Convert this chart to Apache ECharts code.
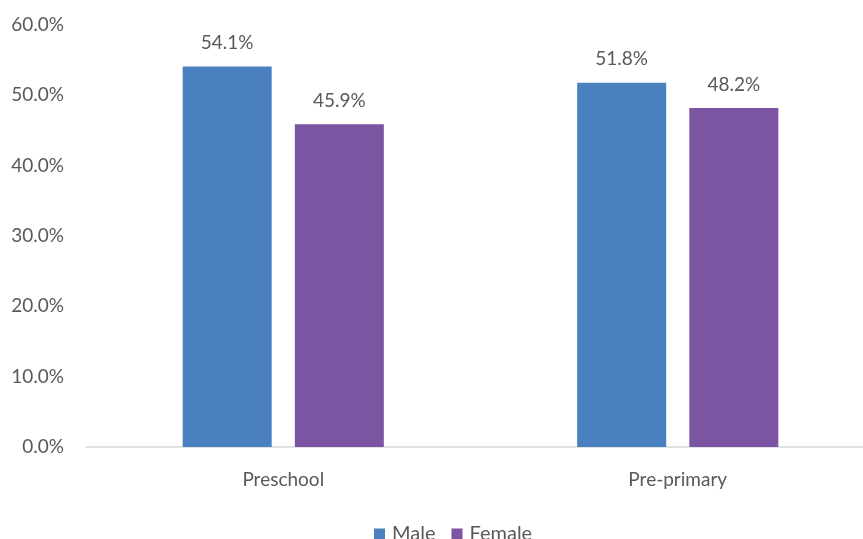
<!DOCTYPE html>
<html>
<head>
<meta charset="utf-8">
<script src="https://cdn.jsdelivr.net/npm/echarts@6/dist/echarts.min.js"></script>
<style>
  html, body { margin: 0; padding: 0; background: #fff; }
  #chart { width: 863px; height: 539px; }
</style>
</head>
<body>
<div id="chart"></div>
<script>
var categories = ['Preschool', 'Pre-primary'];
var maleValues = [54.1, 51.8];
var femaleValues = [45.9, 48.2];
var yTicks = [0, 10, 20, 30, 40, 50, 60];

var myChart = echarts.init(document.getElementById('chart'));
var textColor = '#595959';
var font = 'Lato';
var fs = 19;

var option = {
    animation: false,
    grid: {
        left: 86,
        right: -12,
        top: 25,
        bottom: 92,
        outerBoundsMode: 'none'
    },
    legend: {
        data: ['Male', 'Female'],
        top: 519,
        left: 369,
        itemWidth: 11,
        itemHeight: 11,
        itemGap: 16,
        icon: 'rect',
        selectedMode: false,
        textStyle: { color: textColor, fontSize: 20, fontFamily: font, padding: [0, 0, 0, 2] }
    },
    xAxis: {
        type: 'category',
        data: categories,
        axisLine: { lineStyle: { color: '#d9d9d9', width: 1.5 } },
        axisTick: { show: false },
        axisLabel: { color: textColor, fontSize: fs, fontFamily: font, margin: 23 }
    },
    yAxis: {
        type: 'value',
        min: yTicks[0],
        max: yTicks[yTicks.length - 1],
        interval: 10,
        splitLine: { show: false },
        axisLine: { show: false },
        axisTick: { show: false },
        axisLabel: {
            color: textColor,
            fontSize: fs,
            fontFamily: font,
            margin: 22,
            formatter: function (v) { return v.toFixed(1) + '%'; }
        }
    },
    series: [
        {
            name: 'Male',
            type: 'bar',
            data: maleValues,
            barWidth: 89,
            barGap: '26%',
            itemStyle: { color: '#4a80bf' },
            label: {
                show: true,
                position: 'top',
                distance: 14,
                color: textColor,
                fontSize: fs,
                fontFamily: font,
                formatter: function (p) { return p.value.toFixed(1) + '%'; }
            }
        },
        {
            name: 'Female',
            type: 'bar',
            data: femaleValues,
            barWidth: 89,
            itemStyle: { color: '#7b55a1' },
            label: {
                show: true,
                position: 'top',
                distance: 14,
                color: textColor,
                fontSize: fs,
                fontFamily: font,
                formatter: function (p) { return p.value.toFixed(1) + '%'; }
            }
        }
    ]
};
myChart.setOption(option);
</script>
</body>
</html>
